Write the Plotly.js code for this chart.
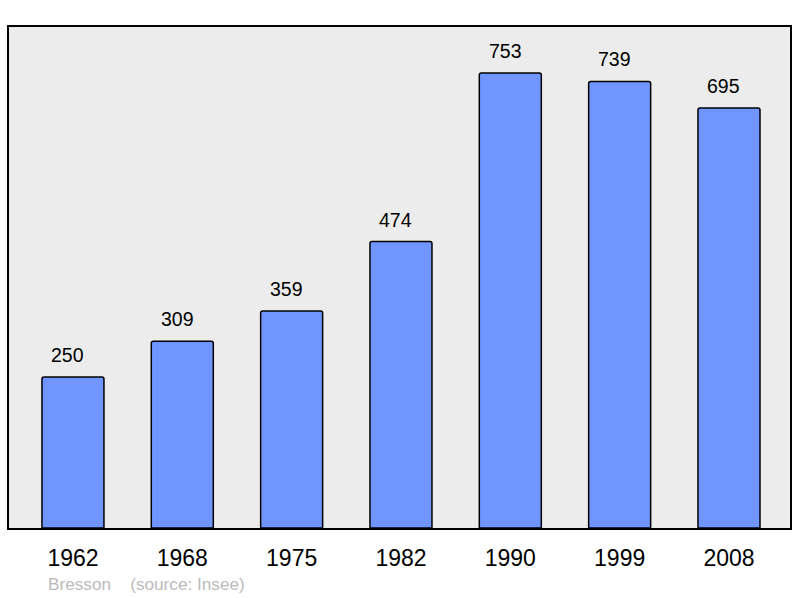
<!DOCTYPE html>
<html><head><meta charset="utf-8">
<script src="https://cdn.plot.ly/plotly-3.0.1.min.js"></script>
<style>body{margin:0;background:#fff}#c{width:800px;height:598px}</style>
</head><body><div id="c"></div>
<script>
var years = ["1962","1968","1975","1982","1990","1999","2008"];
var population = [250,309,359,474,753,739,695];
var town = "Bresson";
var source = "(source: Insee)";

var xs = years.map(function(_, i){ return i; });
var font = "Liberation Sans, Arial, sans-serif";

var trace = {
  type: "bar", x: xs, y: population, width: 0.567,
  marker: {color: "#7095ff", line: {color: "#000", width: 1.5}, cornerradius: 2},
  hoverinfo: "skip"
};
var ann = population.map(function(v, i){
  return {x: i, y: v, xref: "x", yref: "y", text: String(v), showarrow: false,
    yshift: 22, xshift: -5, yanchor: "middle", font: {family: font, size: 19.5, color: "#000"}};
});
ann.push({xref: "paper", yref: "paper", x: (46-9)/781, y: -(584-528)/501, xanchor: "left", yanchor: "middle",
  text: town + "&nbsp;&nbsp;&nbsp;&nbsp;" + source, showarrow: false, font: {family: font, size: 17.2, color: "#bbbbbb"}});

var layout = {
  width: 800, height: 598,
  margin: {l: 9, r: 10, t: 27, b: 70, pad: 0},
  paper_bgcolor: "#fff", plot_bgcolor: "#ececec",
  showlegend: false,
  xaxis: {range: [-0.585, 6.558], tickvals: xs, ticktext: years, showgrid: false, zeroline: false,
    showline: true, mirror: true, linecolor: "#000", linewidth: 2, ticks: "", ticklabelstandoff: 8,
    tickfont: {family: font, size: 23, color: "#000"}, fixedrange: true},
  yaxis: {range: [0, 829], showgrid: false, zeroline: false, showticklabels: false,
    showline: true, mirror: true, linecolor: "#000", linewidth: 2, ticks: "", fixedrange: true},
  annotations: ann
};
Plotly.newPlot("c", [trace], layout, {displayModeBar: false, staticPlot: true});
</script></body></html>
